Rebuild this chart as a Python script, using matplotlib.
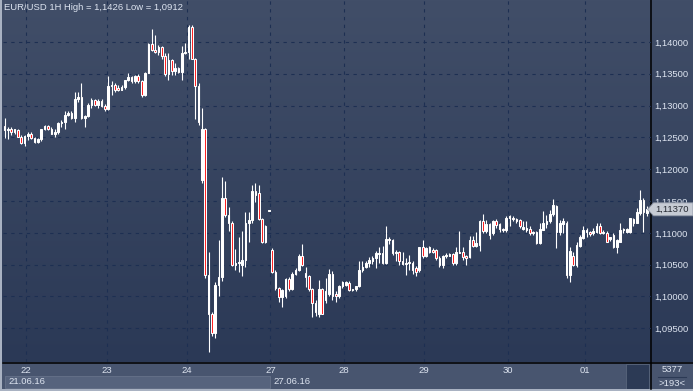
import matplotlib
matplotlib.use('Agg')
import matplotlib.pyplot as plt
import numpy as np
from matplotlib.patches import Rectangle, Polygon
from matplotlib.ticker import FuncFormatter, FixedLocator

plt.rcParams['font.family'] = ['Liberation Sans', 'DejaVu Sans']

# ---------------- data (EUR/USD, 1H candles) ----------------
opens = [
    1.1268, 1.1262, 1.1263, 1.1259, 1.1262, 1.1251, 1.1241, 1.1253, 1.1256, 1.1249,
    1.1243, 1.1247, 1.1263, 1.1268, 1.1264, 1.1256, 1.1259, 1.1272, 1.1275, 1.1286,
    1.1289, 1.1280, 1.1310, 1.1314, 1.1280, 1.1284, 1.1301, 1.1309, 1.1301, 1.1308,
    1.1300, 1.1294, 1.1331, 1.1332, 1.1328, 1.1325, 1.1330, 1.1340, 1.1345, 1.1338,
    1.1347, 1.1338, 1.1317, 1.1352, 1.1397, 1.1388, 1.1385, 1.1392, 1.1378, 1.1350,
    1.1371, 1.1355, 1.1359, 1.1353, 1.1382, 1.1384, 1.1423, 1.1374, 1.1331, 1.1183,
    1.1263, 1.1034, 1.0972, 1.0943, 1.1018, 1.1030, 1.1154, 1.1128, 1.1116, 1.1050,
    1.1052, 1.1050, 1.1058, 1.1115, 1.1120, 1.1166, 1.1162, 1.1121, 1.1086, 1.1135,
    1.1073, 1.1039, 1.1013, 1.0999, 1.1000, 1.1027, 1.1012, 1.1036, 1.1042, 1.1064,
    1.1037, 1.1032, 1.1011, 1.0990, 1.0973, 1.1011, 1.0994, 1.1004, 1.1035, 1.1004,
    1.1000, 1.1016, 1.1018, 1.1021, 1.1010, 1.1011, 1.1016, 1.1041, 1.1047, 1.1052,
    1.1056, 1.1060, 1.1067, 1.1069, 1.1052, 1.1091, 1.1088, 1.1068, 1.1070, 1.1056,
    1.1051, 1.1052, 1.1053, 1.1044, 1.1041, 1.1077, 1.1063, 1.1070, 1.1073, 1.1073,
    1.1061, 1.1049, 1.1064, 1.1064, 1.1067, 1.1052, 1.1069, 1.1070, 1.1064, 1.1062,
    1.1089, 1.1079, 1.1081, 1.1118, 1.1103, 1.1114, 1.1099, 1.1118, 1.1114, 1.1106,
    1.1104, 1.1123, 1.1124, 1.1121, 1.1120, 1.1106, 1.1104, 1.1106, 1.1099, 1.1101,
    1.1084, 1.1105, 1.1114, 1.1118, 1.1130, 1.1142, 1.1102, 1.1114, 1.1116, 1.1034,
    1.1063, 1.1050, 1.1080, 1.1092, 1.1102, 1.1102, 1.1099, 1.1102, 1.1111, 1.1100,
    1.1100, 1.1090, 1.1097, 1.1078, 1.1086, 1.1104, 1.1102, 1.1102, 1.1121, 1.1116,
    1.1131, 1.1152, 1.1131,
]
highs = [
    1.1280, 1.1266, 1.1266, 1.1264, 1.1263, 1.1254, 1.1254, 1.1258, 1.1258, 1.1250,
    1.1249, 1.1264, 1.1270, 1.1269, 1.1266, 1.1263, 1.1275, 1.1277, 1.1291, 1.1292,
    1.1291, 1.1322, 1.1322, 1.1335, 1.1285, 1.1304, 1.1312, 1.1311, 1.1310, 1.1310,
    1.1303, 1.1346, 1.1339, 1.1335, 1.1332, 1.1332, 1.1340, 1.1351, 1.1347, 1.1348,
    1.1350, 1.1341, 1.1353, 1.1399, 1.1420, 1.1411, 1.1395, 1.1394, 1.1382, 1.1382,
    1.1374, 1.1367, 1.1361, 1.1393, 1.1399, 1.1426, 1.1426, 1.1375, 1.1336, 1.1296,
    1.1265, 1.1070, 1.0975, 1.1023, 1.1089, 1.1188, 1.1181, 1.1141, 1.1118, 1.1074,
    1.1094, 1.1103, 1.1133, 1.1133, 1.1175, 1.1179, 1.1175, 1.1124, 1.1112, 1.1136,
    1.1076, 1.1041, 1.1015, 1.1012, 1.1029, 1.1030, 1.1038, 1.1044, 1.1066, 1.1083,
    1.1046, 1.1034, 1.1013, 1.0995, 1.1026, 1.1013, 1.1029, 1.1043, 1.1040, 1.1008,
    1.1018, 1.1024, 1.1025, 1.1024, 1.1012, 1.1017, 1.1056, 1.1056, 1.1055, 1.1062,
    1.1063, 1.1072, 1.1077, 1.1079, 1.1111, 1.1093, 1.1090, 1.1073, 1.1072, 1.1070,
    1.1060, 1.1065, 1.1056, 1.1048, 1.1078, 1.1089, 1.1078, 1.1080, 1.1076, 1.1075,
    1.1063, 1.1065, 1.1068, 1.1069, 1.1069, 1.1078, 1.1103, 1.1078, 1.1065, 1.1095,
    1.1095, 1.1102, 1.1120, 1.1130, 1.1120, 1.1116, 1.1120, 1.1122, 1.1116, 1.1108,
    1.1126, 1.1128, 1.1127, 1.1123, 1.1122, 1.1118, 1.1119, 1.1110, 1.1103, 1.1103,
    1.1116, 1.1135, 1.1128, 1.1136, 1.1153, 1.1144, 1.1120, 1.1123, 1.1118, 1.1078,
    1.1070, 1.1086, 1.1097, 1.1110, 1.1107, 1.1103, 1.1107, 1.1116, 1.1116, 1.1104,
    1.1103, 1.1094, 1.1099, 1.1090, 1.1115, 1.1108, 1.1107, 1.1124, 1.1124, 1.1139,
    1.1167, 1.1154, 1.1142,
]
lows = [
    1.1249, 1.1247, 1.1254, 1.1255, 1.1250, 1.1240, 1.1236, 1.1246, 1.1247, 1.1242,
    1.1241, 1.1245, 1.1261, 1.1262, 1.1255, 1.1251, 1.1256, 1.1266, 1.1263, 1.1283,
    1.1279, 1.1275, 1.1306, 1.1279, 1.1267, 1.1282, 1.1297, 1.1299, 1.1297, 1.1298,
    1.1292, 1.1293, 1.1317, 1.1322, 1.1323, 1.1324, 1.1326, 1.1338, 1.1336, 1.1335,
    1.1336, 1.1314, 1.1315, 1.1351, 1.1386, 1.1382, 1.1380, 1.1374, 1.1347, 1.1340,
    1.1348, 1.1348, 1.1351, 1.1341, 1.1381, 1.1374, 1.1373, 1.1279, 1.1269, 1.1178,
    1.1029, 1.0912, 1.0938, 1.0934, 1.1001, 1.1025, 1.1125, 1.1103, 1.1048, 1.1042,
    1.1039, 1.1032, 1.1047, 1.1085, 1.1115, 1.1149, 1.1120, 1.1084, 1.1084, 1.1134,
    1.1037, 1.1010, 1.0992, 1.0983, 1.0998, 1.1009, 1.1010, 1.1034, 1.1040, 1.1048,
    1.1015, 1.1009, 1.0968, 1.0970, 1.0967, 1.0972, 1.0990, 1.1000, 1.0995, 1.0992,
    1.0998, 1.1014, 1.1016, 1.1008, 1.1009, 1.1009, 1.1015, 1.1039, 1.1045, 1.1047,
    1.1051, 1.1044, 1.1052, 1.1051, 1.1051, 1.1083, 1.1065, 1.1055, 1.1049, 1.1049,
    1.1034, 1.1041, 1.1036, 1.1032, 1.1039, 1.1060, 1.1062, 1.1068, 1.1068, 1.1058,
    1.1047, 1.1044, 1.1060, 1.1063, 1.1049, 1.1049, 1.1068, 1.1057, 1.1049, 1.1061,
    1.1077, 1.1078, 1.1072, 1.1099, 1.1099, 1.1091, 1.1096, 1.1108, 1.1102, 1.1102,
    1.1101, 1.1111, 1.1119, 1.1116, 1.1108, 1.1104, 1.1102, 1.1097, 1.1097, 1.1083,
    1.1083, 1.1104, 1.1107, 1.1115, 1.1126, 1.1076, 1.1097, 1.1099, 1.1029, 1.1022,
    1.1048, 1.1046, 1.1078, 1.1090, 1.1093, 1.1095, 1.1097, 1.1099, 1.1098, 1.1098,
    1.1085, 1.1087, 1.1076, 1.1069, 1.1085, 1.1100, 1.1100, 1.1099, 1.1111, 1.1115,
    1.1128, 1.1102, 1.1127,
]
closes = [
    1.1262, 1.1263, 1.1259, 1.1263, 1.1251, 1.1241, 1.1253, 1.1256, 1.1249, 1.1243,
    1.1247, 1.1263, 1.1268, 1.1264, 1.1256, 1.1259, 1.1272, 1.1275, 1.1286, 1.1289,
    1.1280, 1.1310, 1.1314, 1.1280, 1.1284, 1.1301, 1.1309, 1.1301, 1.1308, 1.1300,
    1.1294, 1.1331, 1.1332, 1.1325, 1.1325, 1.1330, 1.1340, 1.1345, 1.1338, 1.1347,
    1.1338, 1.1317, 1.1352, 1.1397, 1.1388, 1.1385, 1.1392, 1.1378, 1.1350, 1.1371,
    1.1355, 1.1359, 1.1353, 1.1382, 1.1384, 1.1423, 1.1374, 1.1331, 1.1275, 1.1263,
    1.1034, 1.0972, 1.0943, 1.1018, 1.1030, 1.1154, 1.1128, 1.1116, 1.1050, 1.1052,
    1.1054, 1.1058, 1.1115, 1.1120, 1.1166, 1.1160, 1.1121, 1.1086, 1.1111, 1.1135,
    1.1039, 1.1013, 1.0999, 1.1010, 1.1027, 1.1011, 1.1036, 1.1042, 1.1064, 1.1050,
    1.1031, 1.1011, 1.0990, 1.0975, 1.1011, 1.0973, 1.1009, 1.1035, 1.1000, 1.1000,
    1.1016, 1.1022, 1.1023, 1.1010, 1.1011, 1.1016, 1.1042, 1.1047, 1.1053, 1.1058,
    1.1060, 1.1068, 1.1069, 1.1052, 1.1091, 1.1088, 1.1068, 1.1070, 1.1056, 1.1051,
    1.1053, 1.1054, 1.1041, 1.1039, 1.1077, 1.1063, 1.1076, 1.1078, 1.1070, 1.1060,
    1.1049, 1.1064, 1.1065, 1.1067, 1.1052, 1.1070, 1.1070, 1.1062, 1.1060, 1.1089,
    1.1079, 1.1084, 1.1118, 1.1103, 1.1114, 1.1097, 1.1118, 1.1112, 1.1106, 1.1104,
    1.1124, 1.1126, 1.1121, 1.1118, 1.1110, 1.1109, 1.1107, 1.1100, 1.1102, 1.1084,
    1.1106, 1.1115, 1.1119, 1.1130, 1.1144, 1.1102, 1.1116, 1.1118, 1.1034, 1.1072,
    1.1050, 1.1081, 1.1093, 1.1105, 1.1105, 1.1098, 1.1103, 1.1111, 1.1100, 1.1102,
    1.1086, 1.1093, 1.1077, 1.1089, 1.1105, 1.1106, 1.1106, 1.1123, 1.1116, 1.1132,
    1.1152, 1.1133, 1.1137,
]
day_positions = [6.5, 30.5, 54.5, 79.5, 101.5, 125.5, 150.5, 173.5]
day_labels = ['22', '23', '24', '27', '28', '29', '30', '01']
date_row_positions = [-0.45, 79.5]
date_row_labels = ['21.06.16', '27.06.16']
price_ticks = [1.095, 1.100, 1.105, 1.110, 1.115, 1.120, 1.125, 1.130, 1.135, 1.140]
title = 'EUR/USD 1H High = 1,1426 Low = 1,0912'
bars_total_label = '5377'
bars_visible_label = '>193<'

# ---------------- figure ----------------
W, H = 693, 391
fig = plt.figure(figsize=(W / 100, H / 100), dpi=100)

bg = fig.add_axes([0, 0, 1, 1])
bg.set_xlim(0, W)
bg.set_ylim(H, 0)
bg.axis('off')
top_c = np.array([65, 78, 104]) / 255
bot_c = np.array([43, 57, 86]) / 255
t = np.linspace(0, 1, 256)[:, None]
grad = top_c * (1 - t) + bot_c * t
bg.imshow(grad[:, None, :], aspect='auto', extent=[0, W, 362, 0], zorder=0)

# bottom strip
bg.add_patch(Rectangle((0, 362), W, H - 362, facecolor='#48556f', edgecolor='none', zorder=1))
bg.add_patch(Rectangle((626, 363.5), 23, 25, facecolor='#2c3a55', edgecolor='#59657c', lw=0.6, zorder=2))
# light outer border
bg.add_patch(Rectangle((0, 0), 2.2, H, facecolor='#a9b2c2', edgecolor='none', zorder=5))
bg.add_patch(Rectangle((0, H - 2.2), W, 2.2, facecolor='#a9b2c2', edgecolor='none', zorder=5))
# black frame lines
bg.plot([3, W], [362.5, 362.5], color='black', lw=1.1, zorder=6)
bg.plot([651, 651], [0, H - 2.2], color='black', lw=1.1, zorder=6)

txt_col = '#dde4f0'
fs = 6.8
bg.text(4, 8, title, color=txt_col, fontsize=fs, ha='left', va='center', zorder=7)
bg.text(672, 369.5, bars_total_label, color=txt_col, fontsize=fs, ha='center', va='center', zorder=7)
bg.plot([658, 686], [376.5, 376.5], color='#2c3a55', lw=0.8, zorder=7)
bg.text(672, 383, bars_visible_label, color=txt_col, fontsize=fs, ha='center', va='center', zorder=7)

# main chart axes
ax = fig.add_axes([3 / W, 1 - 362 / H, 648 / W, 362 / H])
ax.patch.set_alpha(0)
for s in ax.spines.values():
    s.set_visible(False)
ax.set_xlim(-0.45, 193.25)
ax.set_ylim(1.0897, 1.1466)

ax.yaxis.tick_right()
ax.yaxis.set_major_locator(FixedLocator(price_ticks))
ax.yaxis.set_major_formatter(FuncFormatter(lambda v, _: f'{v:.5f}'.replace('.', ',')))
ax.xaxis.set_major_locator(FixedLocator(day_positions))
ax.set_xticklabels(day_labels)
ax.tick_params(axis='y', length=0, pad=2.2, labelsize=fs, labelcolor=txt_col)
ax.tick_params(axis='x', length=0, pad=3.2, labelsize=fs, labelcolor=txt_col)
ax.grid(True, color='#1d2f52', linestyle=(0, (3, 4)), linewidth=0.8, zorder=1)
ax.set_axisbelow(True)

o = np.array(opens); h = np.array(highs); l = np.array(lows); c = np.array(closes)
x = np.arange(len(o))
bull = c >= o
ax.vlines(x, l, h, color='white', linewidth=0.8, zorder=2)
body_bot = np.minimum(o, c)
body_h = np.maximum(np.abs(c - o), 0.00002)
fill = np.where(bull, 'white', '#ff1a1a')
ax.bar(x, body_h, bottom=body_bot, width=0.5, color=fill, edgecolor='white',
       linewidth=0.75, zorder=3)

# overlay axes (drawn above the price labels)
ov = fig.add_axes([0, 0, 1, 1])
ov.set_xlim(0, W)
ov.set_ylim(H, 0)
ov.axis('off')
ov.patch.set_alpha(0)

fig.canvas.draw()
def data_to_px(xv, yv):
    dx, dy = ax.transData.transform((xv, yv))
    return dx, H - dy

# date row (second line of the time axis)
x1, _ = data_to_px(date_row_positions[1], 1.1)
bg.add_patch(Rectangle((5, 376), x1 - 5, 11.5, facecolor='#56637d', edgecolor='#66728a', lw=0.6, zorder=3))
bg.text(8, 382, date_row_labels[0], color=txt_col, fontsize=fs, ha='left', va='center', zorder=7)
bg.text(x1 + 3.5, 382, date_row_labels[1], color=txt_col, fontsize=fs, ha='left', va='center', zorder=7)

# current price marker
_, ypx = data_to_px(0, closes[-1])
ov.add_patch(Polygon([(647.5, ypx), (653.5, ypx - 6.5), (693, ypx - 6.5), (693, ypx + 6.5), (653.5, ypx + 6.5)],
                     closed=True, facecolor='#c6cbd4', edgecolor='#8d95a5', lw=0.6, zorder=8))
ov.text(655.5, ypx, f'{closes[-1]:.5f}'.replace('.', ','), color='#262a33', fontsize=fs,
        ha='left', va='center', zorder=9)

fig.savefig('out.png', dpi=100)
